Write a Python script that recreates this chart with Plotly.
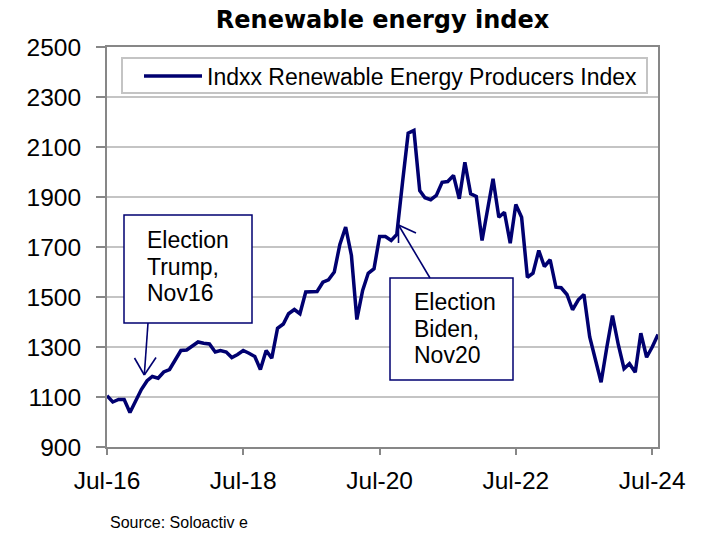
import pandas as pd
import plotly.graph_objects as go

# ---- data (monthly, Jul-2016 .. Aug-2024) ----
index_values = [
    1105, 1080, 1090, 1090, 1038, 1085, 1130, 1165, 1182, 1175, 1200, 1210,   # Jul16-Jun17
    1250, 1286, 1288, 1305, 1320, 1315, 1312, 1280, 1286, 1280, 1258, 1270,   # Jul17-Jun18
    1286, 1275, 1262, 1210, 1286, 1255, 1375, 1392, 1433, 1450, 1433, 1520,   # Jul18-Jun19
    1520, 1522, 1559, 1569, 1600, 1710, 1780, 1666, 1410, 1526, 1595, 1613,   # Jul19-Jun20
    1742, 1742, 1726, 1750, 1960, 2155, 2166, 1926, 1897, 1889, 1906, 1959,   # Jul20-Jun21
    1962, 1986, 1893, 2039, 1913, 1902, 1726, 1859, 1973, 1819, 1839, 1715,   # Jul21-Jun22
    1870, 1819, 1579, 1595, 1686, 1622, 1649, 1539, 1537, 1510, 1449, 1489,   # Jul22-Jun23
    1510, 1340, 1250, 1159, 1300, 1426, 1310, 1213, 1233, 1199, 1355, 1259,   # Jul23-Jun24
    1300, 1350,                                                               # Jul24-Aug24
]
dates = pd.date_range("2016-07-01", periods=len(index_values), freq="MS")

series_name = "Indxx Renewable Energy Producers Index"
y_ticks = [900, 1100, 1300, 1500, 1700, 1900, 2100, 2300, 2500]
x_tick_dates = ["2016-07-01", "2018-07-01", "2020-07-01", "2022-07-01", "2024-07-01"]
x_tick_labels = ["Jul-16", "Jul-18", "Jul-20", "Jul-22", "Jul-24"]

NAVY = "#000070"
AXIS_GRAY = "#878787"
GRID_GRAY = "#c4c4c4"
FONT = "Liberation Sans, Arial, sans-serif"

fig = go.Figure()
fig.add_trace(go.Scatter(
    x=dates, y=index_values, mode="lines", name=series_name,
    line=dict(color=NAVY, width=3.5),
))


def px_x(px):
    return (px - 107) / 551


def px_y(py):
    return (447 - py) / 400


fig.update_layout(
    width=707, height=533,
    margin=dict(l=107, r=49, t=47, b=86),
    paper_bgcolor="white", plot_bgcolor="white",
    font=dict(family=FONT, color="black", size=24.5),
    title=dict(
        text="<b>Renewable energy index</b>",
        font=dict(family="DejaVu Sans, sans-serif", size=24, color="black"),
        x=0.5, xref="paper", xanchor="center",
        y=1 - 20 / 533, yref="container", yanchor="middle",
    ),
    showlegend=True,
    legend=dict(
        x=px_x(139), y=px_y(76),
        xanchor="left", yanchor="middle",
        bgcolor="rgba(0,0,0,0)", borderwidth=0,
        font=dict(family=FONT, size=23, color="black"),
        itemwidth=58,
    ),
    xaxis=dict(
        type="date",
        range=[dates[0], dates[-1]],
        tickvals=x_tick_dates, ticktext=x_tick_labels,
        ticks="outside", ticklen=6, tickwidth=2, tickcolor=AXIS_GRAY,
        showline=True, linecolor=AXIS_GRAY, linewidth=2, mirror=True,
        showgrid=False, zeroline=False,
        tickfont=dict(family=FONT, size=24.5, color="black"),
        ticklabelstandoff=5,
    ),
    yaxis=dict(
        range=[900, 2500], tickvals=y_ticks,
        ticks="outside", ticklen=9, tickwidth=2, tickcolor=AXIS_GRAY,
        showline=True, linecolor=AXIS_GRAY, linewidth=2, mirror=True,
        showgrid=True, gridcolor=GRID_GRAY, gridwidth=1.5, zeroline=False,
        tickfont=dict(family=FONT, size=24.5, color="black"),
        ticklabelstandoff=10,
    ),
)

# legend frame (white box with light grey border, drawn between grid and traces)
fig.add_shape(type="rect", xref="paper", yref="paper",
              x0=px_x(122), x1=px_x(647), y0=px_y(93), y1=px_y(58),
              line=dict(color=GRID_GRAY, width=2), fillcolor="white", layer="between")

# ---- annotation boxes ----
boxes = [
    (124, 215, 252, 323),
    (390, 278, 513, 380),
]
for x0, y0, x1, y1 in boxes:
    fig.add_shape(type="rect", xref="paper", yref="paper",
                  x0=px_x(x0), x1=px_x(x1), y0=px_y(y1), y1=px_y(y0),
                  line=dict(color=NAVY, width=1.5), fillcolor="white", layer="above")

box_texts = [
    (145, [240, 267, 293], ["Election", "Trump,", "Nov16"]),
    (412, [302, 329, 355], ["Election", "Biden,", "Nov20"]),
]
for left, ys, lines in box_texts:
    for yy, t in zip(ys, lines):
        fig.add_annotation(text=t, xref="paper", yref="paper",
                           x=px_x(left), y=px_y(yy), xanchor="left", yanchor="middle",
                           showarrow=False, font=dict(family=FONT, size=23, color="black"))

# callout arrows: shaft from box edge to tip, plus two open arrowhead arms
arrows = [
    # tail, tip, arm1 end, arm2 end (pixel positions)
    ((148, 323), (144.3, 375), (134.5, 358), (156, 357.5)),
    ((430, 278), (398.5, 225), (416, 233), (398.5, 243)),
]
for tail, tip, arm1, arm2 in arrows:
    for start in (tail, arm1, arm2):
        fig.add_shape(type="line", xref="paper", yref="paper",
                      x0=px_x(start[0]), y0=px_y(start[1]),
                      x1=px_x(tip[0]), y1=px_y(tip[1]),
                      line=dict(color=NAVY, width=1.6), layer="above")

fig.add_annotation(text="Source: Soloactiv e", xref="paper", yref="paper",
                   x=px_x(108), y=px_y(522), xanchor="left", yanchor="middle",
                   showarrow=False, font=dict(family=FONT, size=16, color="black"))

fig.write_html("out.html")
